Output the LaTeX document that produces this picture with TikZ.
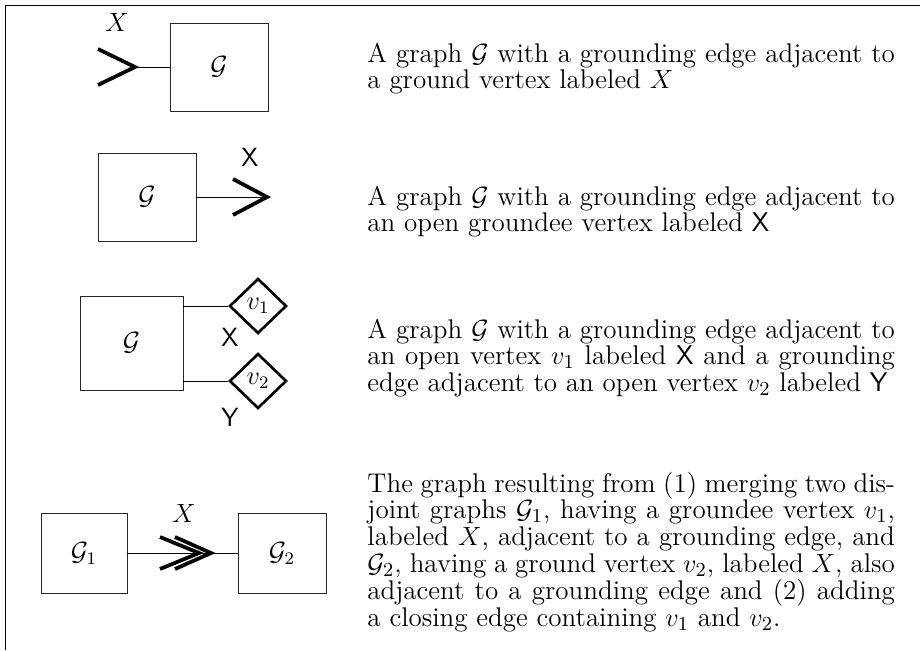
\documentclass[12pt,tikz,border=0pt]{standalone}
\usetikzlibrary{shapes.geometric}
\begin{document}
\begin{tikzpicture}[x=0.455pt,y=-0.455pt,
  graphbox/.style={draw=black!85,thin,minimum width=44.6pt,minimum height=40pt},
  vtx/.style={diamond,draw,line width=1.2pt,minimum width=26pt,minimum height=25pt,inner sep=0pt},
  chev/.style={line width=1.7pt},
  desc/.style={text width=240pt,align=justify,inner sep=0pt,anchor=base west,
    font=\fontsize{12.3}{12.2}\selectfont}]
  \useasboundingbox (0,0) rectangle (920,650);
  \draw[thin] (5,650) -- (5,5) -- (920,5);
  % ground vertex
  \node[graphbox] (g1) at (219,67) {$\mathcal{G}$};
  \coordinate (t1) at (135,67);
  \node (x1) at (117,22) {$X$};
  \draw[thin] (t1) -- (g1);
  \draw[chev] (t1) ++(-37,-18) -- (t1) -- ++(-37,18);
  % open groundee vertex
  \node[graphbox] (g2) at (147,197) {$\mathcal{G}$};
  \coordinate (t2) at (267,197);
  \node (x2) at (250,157) {\textsf{X}};
  \draw[thin] (g2) -- (t2);
  \draw[chev] (t2) ++(-34,-18) -- (t2) -- ++(-34,18);
  % open vertices
  \node[graphbox,minimum width=46.9pt,minimum height=42.8pt] (g3) at (131.5,343) {$\mathcal{G}$};
  \node[vtx] (v1) at (258,306) {$v_1$};
  \node[vtx] (v2) at (258,381) {$v_2$};
  \draw[thin] (g3.east |- v1) -- (v1);
  \draw[thin] (g3.east |- v2) -- (v2);
  \node (x3) at (230,337) {\textsf{X}};
  \node (y3) at (230,417) {\textsf{Y}};
  % closing edge
  \node[graphbox,minimum width=39.1pt,minimum height=36.4pt] (g4a) at (84,553) {$\mathcal{G}_1$};
  \node[graphbox,minimum width=40pt,minimum height=36.4pt] (g4b) at (282,553) {$\mathcal{G}_2$};
  \coordinate (t4a) at (199,553);
  \coordinate (t4b) at (211,553);
  \node (x4) at (184,513) {$X$};
  \draw[thin] (g4a) -- (g4b);
  \foreach \t/\w in {t4a/39,t4b/36} { \draw[chev] (\t) ++(-\w,-16) -- (\t) -- ++(-\w,16); }
  % descriptions
  \node[desc] (d1) at (367,62) {A graph $\mathcal{G}$ with a grounding edge adjacent to a ground vertex labeled $X$};
  \node[desc] (d2) at (367,205) {A graph $\mathcal{G}$ with a grounding edge adjacent to an open groundee vertex labeled \textsf{X}};
  \node[desc] (d3) at (367,338) {A graph $\mathcal{G}$ with a grounding edge adjacent to an open vertex $v_1$ labeled \textsf{X} and a grounding edge adjacent to an open vertex $v_2$ labeled \textsf{Y}};
  \node[desc] (d4) at (367,492) {The graph resulting from (1) merging two disjoint graphs $\mathcal{G}_1$, having a groundee vertex $v_1$, labeled $X$, adjacent to a grounding edge, and $\mathcal{G}_2$, having a ground vertex $v_2$, labeled $X$, also adjacent to a grounding edge and (2) adding a closing edge containing $v_1$ and $v_2$.};
\end{tikzpicture}
\end{document}
